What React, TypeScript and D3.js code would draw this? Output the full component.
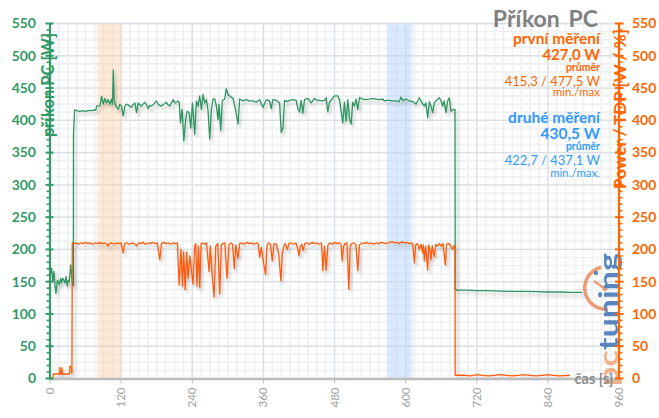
import React from "react";
import * as d3 from "d3";

// ---------- data ----------
const xTickValues = [0, 120, 240, 360, 480, 600, 720, 840, 960];
const yTickValues = [0, 50, 100, 150, 200, 250, 300, 350, 400, 450, 500, 550];

// PC power (green) – time [s]
const pcTime = [
  0, 2.8, 4.5, 6.7, 8.4, 10.1, 12.4, 14, 15.7, 18, 19.6, 21.3, 23.6, 25.3, 26.9, 29.2, 30.9, 32.6, 34.8, 36.5, 38.2, 39.4,
  39.6, 41.5, 45, 50, 55, 60, 65, 70, 75, 77.5, 78.6, 84.2, 87, 89.8, 92.6, 95.4, 98.2, 101, 103.9, 105.5, 106.7, 108.4,
  111.2, 115, 117.9, 120.7, 123.5, 126.3, 129, 131.9, 135, 137.5, 140, 143.2, 146, 148.8, 151.5, 154.4, 157, 160, 163,
  165.6, 168.4, 171.2, 175, 179.6, 182.5, 185, 188, 192, 196.5, 199, 202, 205, 207.7, 210.5, 213.3, 216.1, 218, 220,
  222.9, 225.7, 229, 231.3, 234.7, 237.5, 240.3, 244.2, 247, 249.8, 252.6, 255.4, 258.2, 261, 263.9, 266.7, 269.5, 272.3,
  275.1, 277.9, 280.7, 283.5, 285.2, 288, 290.8, 294.7, 297.5, 300.3, 304.3, 308.8, 313.3, 317.2, 320, 325.6, 331.2, 336,
  342.5, 348, 353.7, 359.3, 364.9, 370.5, 373.3, 376, 381.7, 387.3, 390.1, 393, 395.7, 400, 404.2, 410, 415.4, 418.2, 421,
  423.8, 426.6, 429.4, 435, 440.7, 446.3, 450, 454.7, 459, 463.1, 465.9, 468.7, 471.5, 476, 480, 485.6, 488.4, 494, 496.8,
  499.6, 502.4, 505.2, 508, 510.8, 513.6, 516.4, 519.3, 522, 527.7, 533, 538.9, 544, 550.1, 556, 561.4, 564.2, 568, 572.6,
  578, 583.8, 589.4, 592.2, 595, 600.7, 606, 612, 617.6, 623.2, 627, 631.6, 634.3, 637.2, 640, 642.8, 645.6, 648.4, 652,
  656.9, 660, 662.5, 665, 668.1, 670.9, 673.7, 676.5, 679.3, 682.1, 683.3, 683.6, 686, 700, 720, 740, 760, 780, 800, 820,
  840, 860, 880, 898,
];
const pcWatts = [
  158, 171, 150, 166, 143, 132, 152, 150, 145, 155, 148, 155, 152, 148, 158, 143, 152, 150, 176, 160, 143, 145,
  378, 416, 415, 414, 415, 414, 415, 415, 416, 416, 422, 422, 437, 425, 434, 427, 432, 425, 433, 425, 478, 430,
  422, 417, 425, 422, 407, 422, 425, 424, 422, 420, 424, 427, 412, 427, 424, 422, 425, 428, 424,
  418, 423, 422, 425, 430, 425, 423, 422, 425, 428, 424, 422, 427, 432, 427, 428, 430, 428, 396,
  417, 368, 401, 414, 412, 388, 427, 378, 430, 422, 438, 417, 440, 427, 432, 414, 371, 417,
  433, 433, 422, 401, 425, 384, 430, 433, 449, 440, 437, 434, 415, 394, 433, 430, 432, 430,
  430, 428, 432, 420, 432, 430, 418, 432, 431, 427, 381, 388, 431, 429, 431, 432, 431, 418, 413,
  431, 411, 432, 434, 427, 434, 431, 431, 430, 431, 435, 413, 428, 433, 438, 438, 432, 396, 428,
  399, 432, 403, 394, 428, 422, 433, 417, 435, 433, 432, 433, 434, 433, 432, 433, 430, 431, 431,
  430, 430, 429, 436, 431, 433, 430, 429, 425, 435, 428, 422, 427, 404, 429, 422, 412, 427, 431,
  435, 430, 422, 430, 412, 430, 435, 414, 416, 417, 417, 139, 137, 137, 136, 136, 135.5, 135, 135, 134.5,
  134, 134, 133.5, 133.5,
];

// CPU Power / TDP (orange)
const cpuTime = [
  0, 5, 5.6, 16, 16.6, 17.6, 19.5, 20, 21, 33, 33.6, 36, 37, 37.6, 40, 44, 48, 52, 56, 60, 64, 68, 72, 76, 80, 84, 88,
  92, 96, 98, 100, 104, 108, 112, 116, 120, 123.5, 126, 130, 134, 138, 142, 146, 149, 153, 157, 161, 165, 169, 173, 177,
  181, 185.3, 188, 192, 196, 200, 204, 208, 212, 215, 217.9, 221, 223.5, 225.5, 228, 230.5, 233, 236, 239, 241.4, 244,
  246, 248, 250.5, 252.7, 255, 258, 261, 264, 268.4, 270.5, 274, 276.8, 279.6, 283, 286.4, 289, 292, 295, 298.7, 302,
  305, 308, 311, 313.5, 317.2, 320, 324, 328, 332, 336, 340, 344, 348, 351, 353.7, 356.5, 360.5, 363.8, 366, 369, 372,
  375, 378, 382, 386, 389.6, 392, 395, 397, 400.5, 403, 407, 411, 415, 418, 420, 422, 425, 427, 430, 434, 438, 442, 446,
  450, 454, 458, 460.4, 463, 466, 469, 472, 476, 480, 484, 488, 491, 493, 495.5, 498, 501, 504.2, 506.5, 509, 512, 516,
  519.3, 522, 526, 530, 534, 538, 542, 546, 550, 554, 558, 562, 566, 570, 574, 578, 582, 586, 590, 594, 598, 602, 606,
  610, 612, 614.8, 617, 620, 623.2, 626, 628.8, 630, 631.6, 634, 637.2, 639, 641, 642.8, 645, 648.4, 651, 654, 657,
  659.7, 663, 667, 669, 672, 675, 679.3, 682, 683.3, 683.6, 690, 700, 710, 720, 730, 740, 750, 760, 770, 780, 790, 800,
  810, 820, 830, 840, 850, 860, 877,
];
const cpuWatts = [
  0, 0, 7, 7, 17, 7, 7, 17, 7, 7, 19, 18, 8, 210, 209, 210, 208, 210, 209, 211, 209, 210, 208, 210, 209, 211, 209,
  210, 208, 205, 209, 210, 208, 210, 209, 210, 195, 209, 210, 208, 210, 209, 205, 210, 209, 211, 208, 210, 209, 211, 209,
  210, 184, 209, 211, 209, 210, 208, 210, 209, 210, 145, 200, 143, 196, 137.5, 196, 155, 190, 165, 146, 205,
  209, 143, 205, 141, 209, 210, 208, 210, 166, 205, 155, 126, 205, 209, 131, 207, 209, 210, 155, 207,
  210, 208, 170, 207, 186, 209, 210, 208, 211, 209, 210, 208, 210, 209, 188, 203, 178, 161, 206, 210, 208,
  182, 209, 208, 192, 151, 194, 207, 209, 200, 209, 210, 208, 210, 201, 190, 203, 208, 198, 209, 210, 208, 211, 209,
  210, 208, 210, 167, 205, 168, 207, 210, 208, 211, 209, 210, 208, 182, 205, 209, 210, 138, 205, 209, 210, 208,
  167, 207, 210, 209, 211, 209, 210, 208, 210, 209, 211, 210, 209, 210, 211, 212, 210, 211, 209, 212, 210, 211, 209,
  210, 208, 179, 207, 209, 200, 208, 195, 207, 182, 205, 168, 207, 200, 184, 206, 189, 208, 205, 209,
  205, 209, 176, 208, 209, 207, 200, 206, 206, 5, 5, 5, 4, 6, 5, 4, 5, 6, 5, 4, 5, 6,
  5, 4, 5, 6, 5, 4, 5,
];

// highlighted measurement windows [s]
const firstWindow = [80, 121];
const secondWindow = [569, 611];

// ---------- styling ----------
const GREEN = "#339966";
const GREEN_LINE = "#2e9460";
const ORANGE = "#ff6600";
const ORANGE_LINE = "#ff5a0a";
const BLUE = "#3399ff";
const FONT = "Lato, 'Open Sans', sans-serif";

export default function App() {
  const W = 659;
  const H = 418;
  const left = 50;
  const right = 619;
  const top = 23.5;
  const bottom = 378.5;

  const x = d3.scaleLinear().domain([0, 960]).range([left, right]);
  const y = d3.scaleLinear().domain([0, 550]).range([bottom, top]);

  const line = d3
    .line<[number, number]>()
    .x((d) => x(d[0]))
    .y((d) => y(d[1]));

  const pcData = pcTime.map((t, i) => [t, pcWatts[i]] as [number, number]);
  const cpuData = cpuTime.map((t, i) => [t, cpuWatts[i]] as [number, number]);

  const minorX = d3.range(0, 961, 15);
  const minorY = d3.range(0, 550.01, 12.5);
  const tickMinor = d3.range(0, 551, 10).filter((v) => v % 50 !== 0);

  const arc = d3.arc()({
    innerRadius: 19.5,
    outerRadius: 23,
    startAngle: Math.PI * 0.97,
    endAngle: Math.PI * 1.93,
  } as any) as string;

  return (
    <svg
      width={W}
      height={H}
      style={{ position: "absolute", left: 0, top: 0, background: "#fff" }}
      fontFamily={FONT}
    >
      <defs>
        <clipPath id="plot">
          <rect x={left} y={top - 2} width={right - left} height={bottom - top + 4} />
        </clipPath>
        <filter id="shadow" x="-5%" y="-5%" width="110%" height="120%">
          <feDropShadow dx="2" dy="3" stdDeviation="1.6" floodColor="#000" floodOpacity="0.22" />
        </filter>
        <filter id="soft" x="-20%" y="-5%" width="140%" height="110%">
          <feGaussianBlur stdDeviation="1.2" />
        </filter>
      </defs>

      {/* minor grid */}
      <g stroke="#eef0f2" strokeWidth={1.6}>
        {minorX.map((t) => (
          <line key={"mx" + t} x1={x(t)} x2={x(t)} y1={y(0)} y2={y(550)} />
        ))}
        {minorY.map((v) => (
          <line key={"my" + v} x1={left} x2={right} y1={y(v)} y2={y(v)} />
        ))}
      </g>
      {/* major grid */}
      <g stroke="#dbe0e8" strokeWidth={1.3}>
        {xTickValues.map((t) => (
          <line key={"gx" + t} x1={x(t)} x2={x(t)} y1={y(0)} y2={y(550)} />
        ))}
        {yTickValues.map((v) => (
          <line key={"gy" + v} x1={left} x2={right} y1={y(v)} y2={y(v)} />
        ))}
      </g>

      {/* measurement windows */}
      <rect
        x={x(firstWindow[0])}
        y={y(550)}
        width={x(firstWindow[1]) - x(firstWindow[0])}
        height={y(0) - y(550)}
        fill="#fbd4b0"
        fillOpacity={0.5}
        filter="url(#soft)"
      />
      <rect
        x={x(secondWindow[0])}
        y={y(550)}
        width={x(secondWindow[1]) - x(secondWindow[0])}
        height={y(0) - y(550)}
        fill="#b6d5fa"
        fillOpacity={0.5}
        filter="url(#soft)"
      />

      {/* watermark logo */}
      <g opacity={0.85}>
        <path d={arc} transform="translate(606,288)" fill="#f08a5a" />
        <line x1={594} y1={281} x2={604} y2={288} stroke="#f08a5a" strokeWidth={2.2} />
        <circle cx={605} cy={288.5} r={2.6} fill="#f08a5a" />
        <circle cx={596} cy={273} r={2.2} fill="#3f72b5" />
        <text
          transform="translate(618,386) rotate(-90)"
          fontSize={26}
          fontWeight={700}
          textLength={133}
          lengthAdjust="spacingAndGlyphs"
        >
          <tspan fill="#f2a57a">pc</tspan>
          <tspan fill="#3f72b5">tuning</tspan>
        </text>
      </g>

      {/* data lines */}
      <g clipPath="url(#plot)" fill="none" strokeLinejoin="round">
        <path d={line(pcData) as string} stroke={GREEN_LINE} strokeWidth={1.3} filter="url(#shadow)" />
        <path d={line(cpuData) as string} stroke={ORANGE_LINE} strokeWidth={1.3} filter="url(#shadow)" />
      </g>

      {/* x axis */}
      <line x1={left} x2={right} y1={bottom + 0.5} y2={bottom + 0.5} stroke="#bdbdbd" strokeWidth={2.5} />
      {xTickValues.map((t) => (
        <g key={"xt" + t}>
          <line x1={x(t)} x2={x(t)} y1={bottom + 1} y2={bottom + 5} stroke="#bdbdbd" strokeWidth={1} />
          <text
            transform={`translate(${x(t)},${bottom + 9}) rotate(-90)`}
            textAnchor="end"
            dy="0.35em"
            fontSize={11.5}
            fill="#9e9e9e"
          >
            {t}
          </text>
        </g>
      ))}
      <text x={594} y={384} textAnchor="middle" fontSize={14.5} fontWeight={700} fill="#8c8c8c">
        čas [s]
      </text>

      {/* left axis */}
      <line x1={left} x2={left} y1={top} y2={bottom + 1} stroke={GREEN} strokeWidth={2.2} />
      {tickMinor.map((v) => (
        <line key={"lm" + v} x1={left - 3.5} x2={left} y1={y(v)} y2={y(v)} stroke={GREEN} strokeWidth={1.6} />
      ))}
      {yTickValues.map((v) => (
        <g key={"ly" + v}>
          <line x1={left - 4.5} x2={left + 3.5} y1={y(v)} y2={y(v)} stroke={GREEN} strokeWidth={2} />
          <text x={36} y={y(v)} dy="0.35em" textAnchor="end" fontSize={14} fontWeight={700} fill={GREEN}>
            {v}
          </text>
        </g>
      ))}
      <text
        transform={`translate(54,85) rotate(-90)`}
        textAnchor="middle"
        fontSize={16.5}
        fontWeight={700}
        fill={GREEN}
      >
        příkon PC [W]
      </text>

      {/* right axis */}
      <line x1={right} x2={right} y1={top} y2={bottom + 1} stroke={ORANGE} strokeWidth={2.2} />
      {tickMinor.map((v) => (
        <line key={"rm" + v} x1={right} x2={right + 3.5} y1={y(v)} y2={y(v)} stroke={ORANGE} strokeWidth={1.6} />
      ))}
      {yTickValues.map((v) => (
        <g key={"ry" + v}>
          <line x1={right - 4} x2={right + 4.5} y1={y(v)} y2={y(v)} stroke={ORANGE} strokeWidth={2} />
          <text x={632} y={y(v)} dy="0.35em" textAnchor="start" fontSize={14} fontWeight={700} fill={ORANGE}>
            {v}
          </text>
        </g>
      ))}
      <text
        transform={`translate(626,109) rotate(-90)`}
        textAnchor="middle"
        fontSize={17}
        fontWeight={700}
        fill={ORANGE}
      >
        Power / TDP [W / %]
      </text>

      {/* info block */}
      <g textAnchor="end">
        <text x={598} y={27} fontSize={23} fontWeight={700} fill="#808080">
          Příkon<tspan dx={9}>PC</tspan>
        </text>
        <text x={600} y={44} fontSize={15.5} fontWeight={700} fill={ORANGE}>
          první měření
        </text>
        <text x={600} y={59.5} fontSize={15} fontWeight={700} fill={ORANGE}>
          427,0 W
        </text>
        <text x={600} y={71} fontSize={10.5} fontWeight={700} fill={ORANGE}>
          průměr
        </text>
        <text x={600} y={85.5} fontSize={13} fill={ORANGE}>
          415,3 / 477,5 W
        </text>
        <text x={600} y={96} fontSize={11.5} fill={ORANGE}>
          min./max
        </text>
        <text x={600} y={122.5} fontSize={15.5} fontWeight={700} fill={BLUE}>
          druhé měření
        </text>
        <text x={600} y={138.5} fontSize={15.5} fontWeight={700} fill={BLUE}>
          430,5 W
        </text>
        <text x={600} y={149.5} fontSize={10.5} fontWeight={700} fill={BLUE}>
          průměr
        </text>
        <text x={600} y={165} fontSize={13} fill={BLUE}>
          422,7 / 437,1 W
        </text>
        <text x={600} y={176.5} fontSize={11.5} fill={BLUE}>
          min./max.
        </text>
      </g>
    </svg>
  );
}
